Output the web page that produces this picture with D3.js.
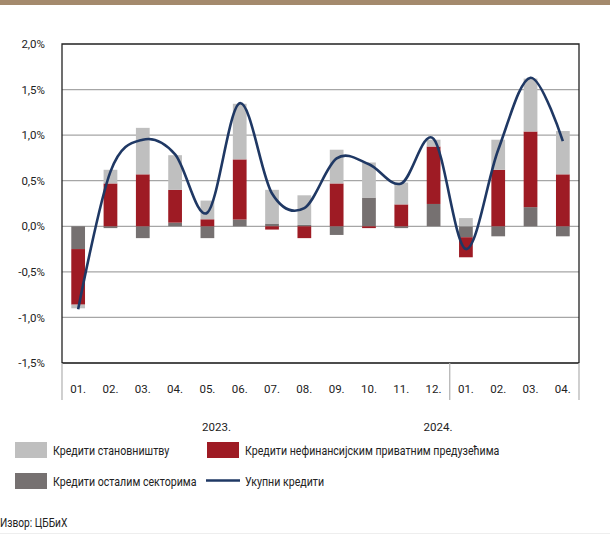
<!DOCTYPE html>
<html>
<head>
<meta charset="utf-8">
<script src="https://cdn.jsdelivr.net/npm/d3@7"></script>
<style>
  body { margin: 0; background: #fff; }
  svg { display: block; font-family: Roboto, sans-serif; }
</style>
</head>
<body>
<svg></svg>
<script>
let width = 610
let height = 535

// categories
let months = ['01.', '02.', '03.', '04.', '05.', '06.', '07.', '08.', '09.', '10.', '11.', '12.',
              '01.', '02.', '03.', '04.']
let years = ['2023.', '2024.']

// series (%)
let households = [-0.04, 0.15, 0.51, 0.38, 0.205, 0.61, 0.37, 0.325, 0.37, 0.385, 0.24, 0.075, 0.09, 0.33, 0.58, 0.475]
let enterprises = [-0.61, 0.47, 0.57, 0.36, 0.077, 0.66, -0.036, -0.13, 0.47, -0.02, 0.24, 0.63, -0.22, 0.62, 0.83, 0.57]
let others = [-0.25, -0.02, -0.13, 0.04, -0.13, 0.074, 0.03, 0.015, -0.095, 0.315, -0.02, 0.245, -0.12, -0.11, 0.21, -0.11]
let total = [-0.91, 0.60, 0.95, 0.79, 0.15, 1.35, 0.36, 0.20, 0.745, 0.68, 0.47, 0.96, -0.25, 0.84, 1.63, 0.935]

let yTicks = [-1.5, -1.0, -0.5, 0, 0.5, 1.0, 1.5, 2.0]

let legendItems = [
    {label: 'Кредити становништву', color: '#bfbfbf', type: 'rect'},
    {label: 'Кредити нефинансијским приватним предузећима', color: '#9e1b24', type: 'rect'},
    {label: 'Кредити осталим секторима', color: '#767171', type: 'rect'},
    {label: 'Укупни кредити', color: '#1f3864', type: 'line'}
]

let colors = {others: '#767171', enterprises: '#9e1b24', households: '#bfbfbf'}

let plotLeft = 62, plotRight = 579, plotTop = 44, plotBottom = 363

let svg = d3.select('svg').attr('width', width).attr('height', height)

// top brown band
svg.append('rect').attr('x', 0).attr('y', 0).attr('width', width).attr('height', 5).attr('fill', '#a48a6d')

let xScale = d3.scaleBand()
    .domain(d3.range(months.length))
    .range([plotLeft, plotRight])
    .paddingInner(0.575)
    .paddingOuter(0.2875)

let yScale = d3.scaleLinear()
    .domain([-1.5, 2.0])
    .range([plotBottom, plotTop])

// gridlines
svg.append('g')
    .selectAll('line')
    .data(yTicks.filter(d => d > -1.5 && d < 2.0))
    .enter()
    .append('line')
    .attr('x1', plotLeft).attr('x2', plotRight)
    .attr('y1', d => yScale(d)).attr('y2', d => yScale(d))
    .attr('stroke', '#a6a6a6')
    .attr('stroke-width', 1.3)

// y tick labels
let yAxis = d3.axisLeft(yScale)
    .tickValues(yTicks)
    .tickSize(0)
    .tickPadding(17)
    .tickFormat(d => d3.format('.1f')(d).replace('.', ',').replace('−', '-') + '%')
svg.append('g')
    .attr('transform', 'translate(' + plotLeft + ',0)')
    .call(yAxis)
    .call(g => g.select('.domain').remove())
    .selectAll('text')
    .attr('font-size', 11.5)
    .attr('fill', '#222')
    .attr('font-family', 'Roboto, sans-serif')

// stacked bars
let rows = months.map((m, i) => ({
    i: i,
    others: others[i],
    enterprises: enterprises[i],
    households: households[i]
}))
let stack = d3.stack()
    .keys(['others', 'enterprises', 'households'])
    .offset(d3.stackOffsetDiverging)
let series = stack(rows)

svg.append('g')
    .selectAll('g')
    .data(series)
    .enter()
    .append('g')
    .attr('fill', d => colors[d.key])
    .selectAll('rect')
    .data(d => d)
    .enter()
    .append('rect')
    .attr('x', d => xScale(d.data.i))
    .attr('width', xScale.bandwidth())
    .attr('y', d => yScale(Math.max(d[0], d[1])))
    .attr('height', d => Math.abs(yScale(d[0]) - yScale(d[1])))

// total line
let line = d3.line()
    .x((d, i) => xScale(i) + xScale.bandwidth() / 2)
    .y(d => yScale(d))
    .curve(d3.curveCardinal.tension(0))
svg.append('path')
    .datum(total)
    .attr('d', line)
    .attr('fill', 'none')
    .attr('stroke', '#1f3864')
    .attr('stroke-width', 2.6)

// frame
svg.append('path')
    .attr('d', 'M' + plotLeft + ',' + plotBottom + 'V' + plotTop + 'H' + plotRight + 'V' + plotBottom)
    .attr('fill', 'none')
    .attr('stroke', '#222')
    .attr('stroke-width', 1.3)
svg.append('line')
    .attr('x1', plotLeft).attr('x2', plotRight)
    .attr('y1', plotBottom).attr('y2', plotBottom)
    .attr('stroke', '#111')
    .attr('stroke-width', 1.4)

// category separators below axis
let step = xScale.step()
svg.append('g')
    .selectAll('line')
    .data([0, 12, 16])
    .enter()
    .append('line')
    .attr('x1', d => plotLeft + d * step).attr('x2', d => plotLeft + d * step)
    .attr('y1', plotBottom).attr('y2', 400)
    .attr('stroke', '#b0b0b0')
    .attr('stroke-width', 1.2)

// month labels
let xAxis = d3.axisBottom(xScale)
    .tickSize(0)
    .tickPadding(22)
    .tickFormat(i => months[i])
svg.append('g')
    .attr('transform', 'translate(0,' + plotBottom + ')')
    .call(xAxis)
    .call(g => g.select('.domain').remove())
    .selectAll('text')
    .attr('font-size', 11.5)
    .attr('fill', '#222')
    .attr('font-family', 'Roboto, sans-serif')

// year labels
svg.append('g')
    .selectAll('text')
    .data(years)
    .enter()
    .append('text')
    .attr('x', (d, i) => [216.5, 438][i])
    .attr('y', 431)
    .attr('text-anchor', 'middle')
    .attr('font-size', 11.5)
    .attr('fill', '#222')
    .text(d => d)

// legend
let legend = svg.append('g')
    .selectAll('g')
    .data(legendItems)
    .enter()
    .append('g')
    .attr('transform', (d, i) => 'translate(' + [15, 207][i % 2] + ',' + [442, 473][Math.floor(i / 2)] + ')')
legend.filter(d => d.type === 'rect')
    .append('rect')
    .attr('width', 32).attr('height', 16)
    .attr('fill', d => d.color)
legend.filter(d => d.type === 'line')
    .append('line')
    .attr('x1', -1).attr('x2', 33)
    .attr('y1', 7.5).attr('y2', 7.5)
    .attr('stroke', d => d.color)
    .attr('stroke-width', 2.6)
legend.append('text')
    .attr('transform', 'translate(38,12.5) scale(0.85,1)')
    .attr('font-size', 12.5)
    .attr('fill', '#222')
    .text(d => d.label)

// source
svg.append('text')
    .attr('transform', 'translate(0,527) scale(0.85,1)')
    .attr('font-size', 12)
    .attr('fill', '#222')
    .text('Извор: ЦББиХ')
svg.append('line')
    .attr('x1', 0).attr('x2', width)
    .attr('y1', 533.5).attr('y2', 533.5)
    .attr('stroke', '#eeeeee')
</script>
</body>
</html>
